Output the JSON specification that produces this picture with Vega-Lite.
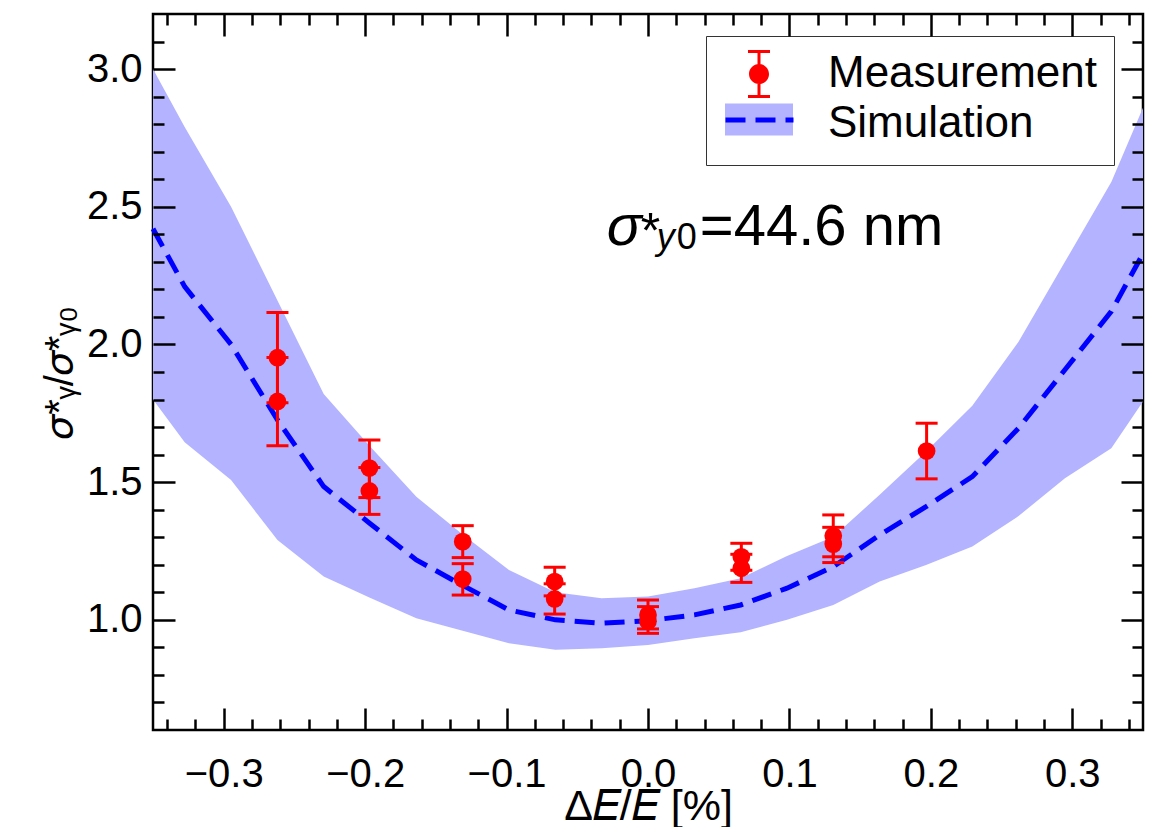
{
  "$schema": "https://vega.github.io/schema/vega-lite/v6.json",
  "description": "Normalised vertical beam size versus relative energy offset: measurement with error bars and simulation band.",
  "background": "white",
  "autosize": {"type": "none"},
  "padding": {"left": 153, "top": 14, "right": 8, "bottom": 97},
  "width": 990,
  "height": 716,
  "datasets": {
    "sim": [
      {"dE": -0.35, "lo": 1.8, "mean": 2.42, "hi": 3.0},
      {"dE": -0.3276, "lo": 1.645, "mean": 2.21, "hi": 2.79},
      {"dE": -0.2948, "lo": 1.508, "mean": 2.0, "hi": 2.5},
      {"dE": -0.262, "lo": 1.29, "mean": 1.726, "hi": 2.16},
      {"dE": -0.2293, "lo": 1.157, "mean": 1.484, "hi": 1.82},
      {"dE": -0.1966, "lo": 1.08, "mean": 1.35, "hi": 1.63},
      {"dE": -0.1638, "lo": 1.006, "mean": 1.2175, "hi": 1.447},
      {"dE": -0.131, "lo": 0.96, "mean": 1.125, "hi": 1.31},
      {"dE": -0.0983, "lo": 0.915, "mean": 1.036, "hi": 1.181},
      {"dE": -0.0655, "lo": 0.891, "mean": 1.0, "hi": 1.1},
      {"dE": -0.0328, "lo": 0.897, "mean": 0.988, "hi": 1.078},
      {"dE": 0.0, "lo": 0.909, "mean": 0.997, "hi": 1.085},
      {"dE": 0.0328, "lo": 0.933, "mean": 1.018, "hi": 1.115},
      {"dE": 0.0655, "lo": 0.955, "mean": 1.054, "hi": 1.151},
      {"dE": 0.0983, "lo": 1.0, "mean": 1.115, "hi": 1.232},
      {"dE": 0.131, "lo": 1.054, "mean": 1.193, "hi": 1.302},
      {"dE": 0.1638, "lo": 1.139, "mean": 1.308, "hi": 1.454},
      {"dE": 0.1966, "lo": 1.199, "mean": 1.411, "hi": 1.611},
      {"dE": 0.2293, "lo": 1.266, "mean": 1.52, "hi": 1.777},
      {"dE": 0.262, "lo": 1.377, "mean": 1.696, "hi": 2.01},
      {"dE": 0.2948, "lo": 1.514, "mean": 1.908, "hi": 2.3},
      {"dE": 0.3276, "lo": 1.623, "mean": 2.12, "hi": 2.59},
      {"dE": 0.35, "lo": 1.793, "mean": 2.33, "hi": 2.86}
    ],
    "meas": [
      {"dE": -0.262, "r": 1.952, "lo": 1.788, "hi": 2.116},
      {"dE": -0.262, "r": 1.793, "lo": 1.632, "hi": 1.953},
      {"dE": -0.197, "r": 1.551, "lo": 1.444, "hi": 1.653},
      {"dE": -0.197, "r": 1.468, "lo": 1.383, "hi": 1.553},
      {"dE": -0.131, "r": 1.284, "lo": 1.226, "hi": 1.342},
      {"dE": -0.131, "r": 1.148, "lo": 1.09, "hi": 1.204},
      {"dE": -0.066, "r": 1.139, "lo": 1.087, "hi": 1.191},
      {"dE": -0.066, "r": 1.076, "lo": 1.021, "hi": 1.131},
      {"dE": 0.0, "r": 1.018, "lo": 0.967, "hi": 1.072},
      {"dE": 0.0, "r": 0.995, "lo": 0.951, "hi": 1.048},
      {"dE": 0.066, "r": 1.229, "lo": 1.18, "hi": 1.278},
      {"dE": 0.066, "r": 1.187, "lo": 1.136, "hi": 1.238},
      {"dE": 0.131, "r": 1.305, "lo": 1.229, "hi": 1.381},
      {"dE": 0.131, "r": 1.275, "lo": 1.208, "hi": 1.336},
      {"dE": 0.197, "r": 1.613, "lo": 1.512, "hi": 1.714}
    ],
    "note": [{"dE": -0.0291, "r": 2.362}]
  },
  "layer": [
    {
      "data": {"name": "sim"},
      "mark": {"type": "area", "opacity": 1},
      "encoding": {
        "x": {
          "field": "dE", "type": "quantitative",
          "scale": {"domain": [-0.35, 0.35], "nice": false, "zero": false},
          "axis": {
            "orient": "bottom", "values": [-0.3, -0.2, -0.1, 0, 0.1, 0.2, 0.3], "format": ".1f",
            "ticks": false, "domain": false, "grid": false,
            "labelFontSize": 40, "labelPadding": 24, "labelColor": "black",
            "title": "Δ𝐸/𝐸 [%]", "titleFontSize": 43, "titleFontWeight": "normal", "titleColor": "black", "titlePadding": -9
          }
        },
        "y": {
          "field": "hi", "type": "quantitative",
          "scale": {"domain": [0.6, 3.2], "nice": false, "zero": false},
          "axis": {
            "orient": "left", "values": [1, 1.5, 2, 2.5, 3], "format": ".1f",
            "ticks": false, "domain": false, "grid": false,
            "labelFontSize": 40, "labelPadding": 11, "labelColor": "black",
            "title": "𝜎*ᵧ/𝜎*ᵧ₀", "titleFontSize": 40, "titleFontWeight": "normal", "titleColor": "black", "titlePadding": 6
          }
        },
        "y2": {"field": "lo"},
        "fill": {
          "datum": "Simulation",
          "scale": {"domain": ["Simulation"], "range": ["#b3b3ff"]},
          "legend": {
            "orient": "none", "legendX": 553, "legendY": 67.5, "title": null, "zindex": 1,
            "padding": 16, "strokeColor": "transparent",
            "labelFontSize": 44, "labelExpr": "''", "labelOffset": 47, "labelLimit": 400,
            "symbolOffset": 15, "symbolSize": 1600, "symbolType": "M-1.7,-0.8H1.7V0.8H-1.7Z",
            "symbolStrokeWidth": 0, "symbolOpacity": 1
          }
        }
      }
    },
    {
      "data": {"name": "sim"},
      "mark": {"type": "line", "strokeWidth": 5, "color": "#0000ff"},
      "encoding": {
        "x": {
          "field": "dE", "type": "quantitative",
          "axis": {"orient": "bottom", "values": [-0.3, -0.2, -0.1, 0, 0.1, 0.2, 0.3], "labels": false, "domain": false, "grid": false, "tickSize": -22, "tickWidth": 2.5, "tickColor": "black", "title": null, "zindex": 1}
        },
        "y": {
          "field": "mean", "type": "quantitative",
          "axis": {"orient": "left", "values": [1, 1.5, 2, 2.5, 3], "labels": false, "domain": false, "grid": false, "tickSize": -22, "tickWidth": 2.5, "tickColor": "black", "title": null, "zindex": 1}
        },
        "strokeDash": {
          "datum": "b",
          "scale": {"domain": ["b"], "range": [[20, 10]]},
          "legend": {
            "orient": "none", "legendX": 553, "legendY": 67.5, "title": null, "zindex": 2,
            "padding": 16, "strokeColor": "transparent",
            "labelFontSize": 44, "labelExpr": "''", "labelOffset": 47, "labelLimit": 400,
            "symbolOffset": 15, "symbolSize": 1600, "symbolType": "M-1.7,0H1.7",
            "symbolStrokeColor": "#0000ff", "symbolStrokeWidth": 5, "symbolOpacity": 1
          }
        }
      }
    },
    {
      "data": {"name": "meas"},
      "mark": {"type": "rule", "strokeWidth": 3},
      "encoding": {
        "x": {
          "field": "dE", "type": "quantitative",
          "axis": {"orient": "bottom", "values": [-0.34, -0.32, -0.28, -0.26, -0.24, -0.22, -0.18, -0.16, -0.14, -0.12, -0.08, -0.06, -0.04, -0.02, 0.02, 0.04, 0.06, 0.08, 0.12, 0.14, 0.16, 0.18, 0.22, 0.24, 0.26, 0.28, 0.32, 0.34], "labels": false, "domain": false, "grid": false, "tickSize": -11, "tickWidth": 2.5, "tickColor": "black", "title": null, "zindex": 1}
        },
        "y": {
          "field": "lo", "type": "quantitative",
          "axis": {"orient": "left", "values": [0.7, 0.8, 0.9, 1.1, 1.2, 1.3, 1.4, 1.6, 1.7, 1.8, 1.9, 2.1, 2.2, 2.3, 2.4, 2.6, 2.7, 2.8, 2.9, 3.1], "labels": false, "domain": false, "grid": false, "tickSize": -11, "tickWidth": 2.5, "tickColor": "black", "title": null, "zindex": 1}
        },
        "y2": {"field": "hi"},
        "color": {"datum": "Measurement"}
      }
    },
    {
      "data": {"name": "meas"},
      "mark": {"type": "tick", "orient": "horizontal", "size": 22, "thickness": 3, "opacity": 1},
      "encoding": {
        "x": {
          "field": "dE", "type": "quantitative",
          "axis": {"orient": "top", "values": [-0.3, -0.2, -0.1, 0, 0.1, 0.2, 0.3], "labels": false, "domain": false, "grid": false, "tickSize": -22, "tickWidth": 2.5, "tickColor": "black", "title": null, "zindex": 1}
        },
        "y": {
          "field": "hi", "type": "quantitative",
          "axis": {"orient": "right", "values": [1, 1.5, 2, 2.5, 3], "labels": false, "domain": false, "grid": false, "tickSize": -22, "tickWidth": 2.5, "tickColor": "black", "title": null, "zindex": 1}
        },
        "color": {"datum": "Measurement"}
      }
    },
    {
      "data": {"name": "meas"},
      "mark": {"type": "tick", "orient": "horizontal", "size": 22, "thickness": 3, "opacity": 1},
      "encoding": {
        "x": {
          "field": "dE", "type": "quantitative",
          "axis": {"orient": "top", "values": [-0.34, -0.32, -0.28, -0.26, -0.24, -0.22, -0.18, -0.16, -0.14, -0.12, -0.08, -0.06, -0.04, -0.02, 0.02, 0.04, 0.06, 0.08, 0.12, 0.14, 0.16, 0.18, 0.22, 0.24, 0.26, 0.28, 0.32, 0.34], "labels": false, "domain": false, "grid": false, "tickSize": -11, "tickWidth": 2.5, "tickColor": "black", "title": null, "zindex": 1}
        },
        "y": {
          "field": "lo", "type": "quantitative",
          "axis": {"orient": "right", "values": [0.7, 0.8, 0.9, 1.1, 1.2, 1.3, 1.4, 1.6, 1.7, 1.8, 1.9, 2.1, 2.2, 2.3, 2.4, 2.6, 2.7, 2.8, 2.9, 3.1], "labels": false, "domain": false, "grid": false, "tickSize": -11, "tickWidth": 2.5, "tickColor": "black", "title": null, "zindex": 1}
        },
        "color": {"datum": "Measurement"}
      }
    },
    {
      "data": {"name": "meas"},
      "mark": {"type": "point", "filled": true, "shape": "circle", "size": 314, "opacity": 1},
      "encoding": {
        "x": {"field": "dE", "type": "quantitative", "axis": null},
        "y": {"field": "r", "type": "quantitative", "axis": null},
        "color": {
          "datum": "Measurement",
          "scale": {"domain": ["Measurement", "Simulation"], "range": ["#ff0000", "transparent"]},
          "legend": {
            "orient": "none", "legendX": 553, "legendY": 22, "title": null,
            "padding": 16, "rowPadding": 0, "strokeColor": "#333333", "fillColor": "transparent",
            "labelFontSize": 44, "labelColor": "black", "labelOffset": 47, "labelLimit": 400,
            "symbolOffset": 15, "symbolSize": 1600, "symbolStrokeWidth": 0, "symbolOpacity": 1,
            "symbolType": "M-0.075,-1.13H0.075V1.13H-0.075Z M-0.55,-1.205H0.55V-1.055H-0.55Z M-0.55,1.055H0.55V1.205H-0.55Z M0.5,0A0.5,0.5,0,1,1,-0.5,0A0.5,0.5,0,1,1,0.5,0Z"
          }
        }
      }
    },
    {
      "data": {"name": "note"},
      "mark": {"type": "text", "align": "left", "baseline": "alphabetic", "fontSize": 58, "fontStyle": "italic", "color": "black"},
      "encoding": {
        "x": {"field": "dE", "type": "quantitative", "axis": null},
        "y": {"field": "r", "type": "quantitative", "axis": null},
        "text": {"value": "σ"}
      }
    },
    {
      "data": {"name": "note"},
      "mark": {"type": "text", "align": "left", "baseline": "alphabetic", "fontSize": 50, "dx": 34, "dy": 3, "color": "black"},
      "encoding": {
        "x": {"field": "dE", "type": "quantitative", "axis": null},
        "y": {"field": "r", "type": "quantitative", "axis": null},
        "text": {"value": "*"}
      }
    },
    {
      "data": {"name": "note"},
      "mark": {"type": "text", "align": "left", "baseline": "alphabetic", "fontSize": 36, "fontStyle": "italic", "dx": 50, "dy": 4, "color": "black"},
      "encoding": {
        "x": {"field": "dE", "type": "quantitative", "axis": null},
        "y": {"field": "r", "type": "quantitative", "axis": null},
        "text": {"value": "y"}
      }
    },
    {
      "data": {"name": "note"},
      "mark": {"type": "text", "align": "left", "baseline": "alphabetic", "fontSize": 36, "dx": 70, "dy": 4, "color": "black"},
      "encoding": {
        "x": {"field": "dE", "type": "quantitative", "axis": null},
        "y": {"field": "r", "type": "quantitative", "axis": null},
        "text": {"value": "0"}
      }
    },
    {
      "data": {"name": "note"},
      "mark": {"type": "text", "align": "left", "baseline": "alphabetic", "fontSize": 58, "dx": 93, "color": "black"},
      "encoding": {
        "x": {"field": "dE", "type": "quantitative", "axis": null},
        "y": {"field": "r", "type": "quantitative", "axis": null},
        "text": {"value": "=44.6 nm"}
      }
    }
  ],
  "resolve": {"axis": {"x": "independent", "y": "independent"}},
  "config": {
    "font": "Liberation Sans",
    "view": {"stroke": "black", "strokeWidth": 2.5},
    "axis": {"labelFont": "Liberation Sans", "titleFont": "Liberation Sans"},
    "legend": {"labelFont": "Liberation Sans"}
  }
}
